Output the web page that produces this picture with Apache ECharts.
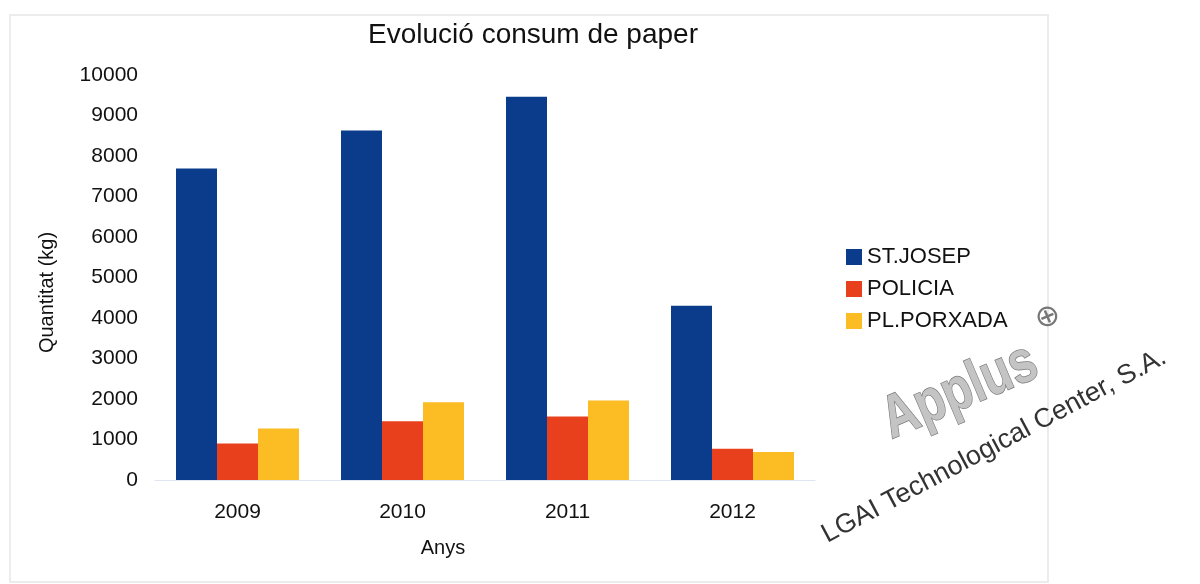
<!DOCTYPE html>
<html>
<head>
<meta charset="utf-8">
<script src="https://cdn.jsdelivr.net/npm/echarts@6/dist/echarts.min.js"></script>
<style>
html,body{margin:0;padding:0;background:#fff;}
#chart{width:1200px;height:584px;}
</style>
</head>
<body>
<div id="chart"></div>
<script>
const categories = ['2009', '2010', '2011', '2012'];
const seriesNames = ['ST.JOSEP', 'POLICIA', 'PL.PORXADA'];
const stJosep = [7690, 8630, 9460, 4300];
const policia = [900, 1450, 1570, 770];
const plPorxada = [1270, 1920, 1960, 690];
const yTicks = { min: 0, max: 10000, interval: 1000 };

const FONT = '"Liberation Sans", Arial, sans-serif';
const colors = ['#0B3C8C', '#E8401C', '#FBBD23'];
const chart = echarts.init(document.getElementById('chart'), null, { renderer: 'canvas' });

chart.setOption({
  backgroundColor: '#fff',
  animation: false,
  textStyle: { fontFamily: FONT },
  title: {
    text: 'Evolució consum de paper',
    left: 528, top: 16, textAlign: 'center',
    textStyle: { fontFamily: FONT, fontSize: 28, fontWeight: 'normal', color: '#111' }
  },
  legend: {
    orient: 'vertical', left: 846, top: 246, padding: 0,
    itemWidth: 16, itemHeight: 16, itemGap: 10,
    icon: 'rect',
    textStyle: { fontFamily: FONT, fontSize: 22, lineHeight: 22, color: '#111' },
    data: seriesNames
  },
  grid: { left: 155, right: 385, top: 75, bottom: 104, containLabel: false },
  xAxis: {
    type: 'category', data: categories,
    name: 'Anys', nameLocation: 'middle', nameGap: 58,
    nameTextStyle: { fontFamily: FONT, fontSize: 20, color: '#111', padding: [0, 84, 0, 0] },
    axisLine: { show: true, lineStyle: { color: '#dde6f0', width: 1 } },
    axisTick: { show: false },
    axisLabel: { fontFamily: FONT, fontSize: 21, color: '#111', margin: 22 }
  },
  yAxis: {
    type: 'value', min: yTicks.min, max: yTicks.max, interval: yTicks.interval,
    name: 'Quantitat (kg)', nameLocation: 'middle', nameGap: 98,
    nameTextStyle: { fontFamily: FONT, fontSize: 20, color: '#111', padding: [0, 30, 0, 0] },
    axisLine: { show: false }, axisTick: { show: false },
    splitLine: { show: false },
    axisLabel: { fontFamily: FONT, fontSize: 21, color: '#111', margin: 17, formatter: v => String(v) }
  },
  series: [
    { name: seriesNames[0], type: 'bar', data: stJosep, barWidth: 41, barGap: '0%', itemStyle: { color: colors[0] } },
    { name: seriesNames[1], type: 'bar', data: policia, barWidth: 41, barGap: '0%', itemStyle: { color: colors[1] } },
    { name: seriesNames[2], type: 'bar', data: plPorxada, barWidth: 41, barGap: '0%', itemStyle: { color: colors[2] } }
  ],
  graphic: [
    { type: 'rect', shape: { x: 10, y: 15, width: 1038, height: 567 }, style: { fill: 'none', stroke: '#ececec', lineWidth: 2 }, silent: true, z: -10 },
    { type: 'text', x: 960, y: 392, rotation: 23 * Math.PI / 180, scaleY: 1.25,
      style: { text: 'Applus', font: 'bold 48px "Liberation Sans", Arial, sans-serif', fill: '#c4c4c4', stroke: '#7a7a7a', lineWidth: 1.2, textAlign: 'center', textVerticalAlign: 'middle' } },
    { type: 'text', x: 1048, y: 318, rotation: 23 * Math.PI / 180,
      style: { text: '⊕', font: '30px "DejaVu Sans", sans-serif', fill: '#777', textAlign: 'center', textVerticalAlign: 'middle' } },
    { type: 'text', x: 994, y: 446, rotation: 28 * Math.PI / 180,
      style: { text: 'LGAI Technological Center, S.A.', font: '27px "Liberation Sans", Arial, sans-serif', fill: '#333', textAlign: 'center', textVerticalAlign: 'middle' } }
  ]
});
</script>
</body>
</html>
